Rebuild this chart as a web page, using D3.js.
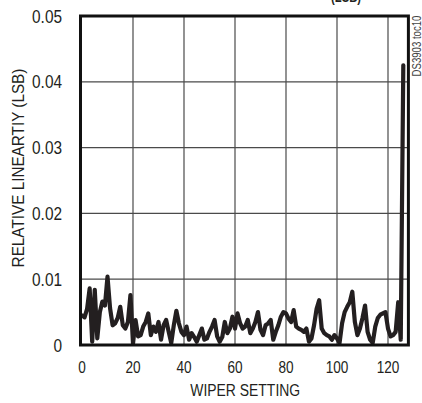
<!DOCTYPE html>
<html><head><meta charset="utf-8">
<script src="https://cdn.jsdelivr.net/npm/d3@7/dist/d3.min.js"></script>
<style>
body{margin:0;background:#fff;}
svg{display:block;}
text{font-family:"Liberation Sans",Arial,sans-serif;fill:#231f20;}
</style></head>
<body>
<svg id="c" width="422" height="403"></svg>
<script>
const wiper = d3.range(0, 127);
const linearity = [
0.0045,0.0042,0.0055,0.0086,0.0005,0.0084,0.0010,0.0050,0.0066,0.0060,
0.0104,0.0056,0.0030,0.0033,0.0041,0.0058,0.0030,0.0025,0.0035,0.0076,
0.0002,0.0038,0.0013,0.0015,0.0028,0.0035,0.0048,0.0015,0.0028,0.0020,
0.0035,0.0008,0.0030,0.0038,0.0020,0.0003,0.0030,0.0052,0.0033,0.0020,
0.0015,0.0028,0.0008,0.0018,0.0012,0.0005,0.0015,0.0025,0.0008,0.0010,
0.0020,0.0028,0.0038,0.0013,0.0005,0.0012,0.0035,0.0018,0.0025,0.0043,
0.0025,0.0048,0.0033,0.0025,0.0028,0.0038,0.0018,0.0025,0.0035,0.0050,
0.0023,0.0015,0.0030,0.0033,0.0038,0.0008,0.0020,0.0030,0.0043,0.0050,
0.0048,0.0040,0.0035,0.0053,0.0028,0.0025,0.0023,0.0020,0.0025,0.0005,
0.0010,0.0030,0.0055,0.0068,0.0025,0.0018,0.0015,0.0013,0.0008,0.0015,
0.0010,0.0003,0.0033,0.0050,0.0058,0.0065,0.0081,0.0035,0.0015,0.0025,
0.0041,0.0060,0.0020,0.0008,0.0003,0.0028,0.0041,0.0046,0.0048,0.0050,
0.0025,0.0013,0.0015,0.0020,0.0065,0.0008,0.0425
];
const xTicks = [0,20,40,60,80,100,120];
const yTicks = [0,0.01,0.02,0.03,0.04,0.05];
const yTickLabels = ["0","0.01","0.02","0.03","0.04","0.05"];
const xLabel = "WIPER SETTING";
const yLabel = "RELATIVE LINEARTIY (LSB)";
const titleTail = "(LSB)";
const code = "DS3903 toc10";

const svg = d3.select("#c");
const x = d3.scaleLinear().domain([0,128]).range([82,408.4]);
const y = d3.scaleLinear().domain([0,0.05]).range([345,16]);

function ctext(parent, tx, ty, str, size, anchor, rot, sx, opts) {
  const gg = parent.append("g").attr("transform", `translate(${tx},${ty}) rotate(${rot||0}) scale(${sx},1)`);
  const t = gg.append("text").attr("text-anchor", anchor).attr("font-size", size).text(str);
  if (opts && opts.bold) t.attr("font-weight", "bold");
  if (opts && opts.fill) t.style("fill", opts.fill);
  return t;
}

// title tail (cut off at top in reference)
ctext(svg, 361, 1.5, titleTail, 15, "end", 0, 0.75, {bold:true});

// grid
const g = svg.append("g");
g.selectAll("line.vx").data(xTicks.filter(d=>d>0)).join("line")
  .attr("x1",d=>x(d)).attr("x2",d=>x(d)).attr("y1",y(0.05)).attr("y2",y(0))
  .attr("stroke","#4a4a4a").attr("stroke-width",1.2);
g.selectAll("line.hy").data(yTicks.filter(d=>d>0&&d<0.05)).join("line")
  .attr("y1",d=>y(d)).attr("y2",d=>y(d)).attr("x1",x(0)).attr("x2",x(128))
  .attr("stroke","#4a4a4a").attr("stroke-width",1.2);

// data line
const line = d3.line().x((d,i)=>x(wiper[i])).y(d=>y(d)).curve(d3.curveLinear);
svg.append("path").datum(linearity).attr("d",line)
  .attr("fill","none").attr("stroke","#231f20").attr("stroke-width",4.2)
  .attr("stroke-linejoin","round").attr("stroke-linecap","round");

// frame
svg.append("rect").attr("x",x(0)-1.5).attr("y",y(0.05)).attr("width",x(128)-x(0)+1.5).attr("height",y(0)-y(0.05))
  .attr("fill","none").attr("stroke","#111").attr("stroke-width",3);

// x tick labels
const xt = svg.append("g");
xTicks.forEach(d => ctext(xt, x(d), 373, String(d), 16, "middle", 0, 0.85));
// y tick labels
const yt = svg.append("g");
yTicks.forEach((d,i) => ctext(yt, 62, y(d)+6.5, yTickLabels[i], 17.5, "end", 0, 0.88));

// axis titles
ctext(svg, (x(0)+x(128))/2, 396, xLabel, 17, "middle", 0, 0.82);
ctext(svg, 24, 168, yLabel, 17, "middle", -90, 0.9);

// code
ctext(svg, 421, 46, code, 12, "middle", -90, 0.8, {fill:"#444"});
</script>
</body></html>
